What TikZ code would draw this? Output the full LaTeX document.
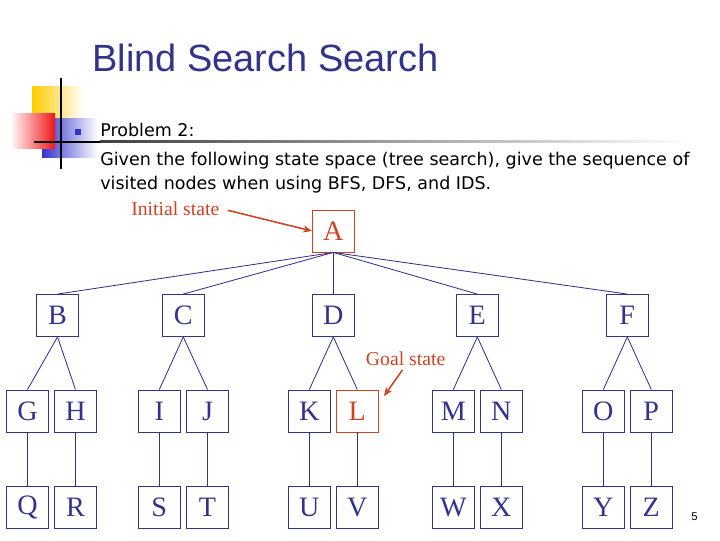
\documentclass[tikz,border=0pt]{standalone}
\usepackage{fontspec}
\setmainfont{Liberation Serif}
\setsansfont{Liberation Sans}
\newfontfamily\bodyfont{DejaVu Sans}
\usetikzlibrary{arrows.meta}
\definecolor{navy}{RGB}{51,51,140}
\definecolor{rust}{RGB}{204,68,34}
\definecolor{sun}{RGB}{255,204,0}
\definecolor{royal}{RGB}{51,51,204}
\definecolor{flame}{RGB}{240,20,20}
\tikzset{
  state/.style={draw=#1,text=#1,line width=0.6pt,minimum size=1.05cm,inner sep=0pt,
    font=\fontsize{20}{20}\selectfont},
  state/.default=navy,
  branch/.style={draw=navy,line width=0.6pt},
  pointer/.style={-{Stealth[length=2.2mm,width=1.8mm]},draw=rust,line width=1.1pt},
  note/.style={text=rust,inner sep=0pt,font=\fontsize{14}{16}\selectfont},
  body/.style={inner sep=0pt,anchor=base west,font=\bodyfont\fontsize{12.45}{17}\selectfont},
}
\begin{document}
\begin{tikzpicture}[x=0.025cm,y=-0.025cm]
  \useasboundingbox (0,0) rectangle (720,540);
  % slide logo
  \shade[left color=sun,middle color=sun,right color=white] (32,86) rectangle (84,119);
  \shade[left color=royal,middle color=royal,right color=white] (42,118) rectangle (98,157);
  \shade[left color=white,right color=flame] (10,113) rectangle (55,148);
  \draw[black,line width=1.4pt] (61,78) -- (61,169);
  \fill[black] (34,140.8) rectangle (100,142.6);
  \shade[left color=black!75,right color=white] (100,140.8) rectangle (690,142.6);
  \fill[royal] (75,129) rectangle (81,135);
  % texts
  \node[anchor=base west,inner sep=0pt,text=navy,font=\sffamily\fontsize{27}{32}\selectfont] (title) at (92,71.7) {Blind Search Search};
  \node[body] (prob) at (100,136.7) {Problem 2:};
  \node[body] (line1) at (100,165) {Given the following state space (tree search), give the sequence of};
  \node[body] (line2) at (100,189) {visited nodes when using BFS, DFS, and IDS.};
  \node[anchor=base west,inner sep=0pt,font=\sffamily\fontsize{8}{10}\selectfont] (page) at (691,520) {5};
  % tree
  \node[state=rust] (A) at (333.3,231) {A};
  \foreach \x/\l in {57.5/B,183.3/C,333.3/D,477.3/E,627.3/F}{
    \node[state] (\l) at (\x,315.5) {\l};
    \draw[branch] (A.south) -- (\l.north);
  }
  \foreach \x/\l/\p/\c in {27.5/G/B/Q,75.5/H/B/R,159.3/I/C/S,207.5/J/C/T,309.3/K/D/U,
      453.3/M/E/W,501.3/N/E/X,603.3/O/F/Y,651.3/P/F/Z}{
    \node[state] (\l) at (\x,411) {\l};
    \node[state] (\c) at (\x,507) {\c};
    \draw[branch] (\p.south) -- (\l.north);
    \draw[branch] (\l.south) -- (\c.north);
  }
  \node[state=rust] (L) at (357.3,411) {L};
  \node[state] (V) at (357.3,507) {V};
  \draw[branch] (D.south) -- (L.north);
  \draw[branch] (L.south) -- (V.north);
  % labels
  \node[note,anchor=base west] (init) at (131,215) {Initial state};
  \draw[pointer,shorten <=6pt] (init.east) -- (A.west);
  \node[note,anchor=base west] (goal) at (365.7,365) {Goal state};
  \coordinate (goaltip) at (384,396);
  \draw[pointer,shorten <=4pt] (goal.south) -- (goaltip);
\end{tikzpicture}
\end{document}
